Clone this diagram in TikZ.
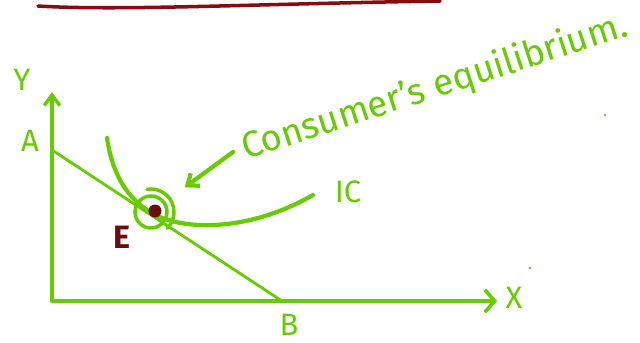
\documentclass[tikz,border=0pt]{standalone}
\usepackage{fontspec}
\setmainfont{Fira Sans}
\usetikzlibrary{arrows.meta, positioning}
\definecolor{pen}{HTML}{66CC00}
\definecolor{inkred}{HTML}{6E0B0B}
\definecolor{topink}{HTML}{8A0A12}

\begin{document}
\begin{tikzpicture}[
    x=0.05cm, y=-0.05cm,
    axis/.style={draw=pen, line width=5pt, line cap=round},
    budget/.style={draw=pen, line width=4pt, line cap=round},
    curve/.style={draw=pen, line width=6pt, line cap=round},
    pointer/.style={draw=pen, line width=6pt, line cap=round, -{Straight Barb[length=14pt, width=22pt, line width=6pt]}},
    lbl/.style={text=pen, font=\fontsize{44}{48}\selectfont, inner sep=0pt},
    speck/.style={circle, fill=pen, inner sep=0pt, minimum size=4pt}
  ]
    \useasboundingbox (0,0) rectangle (640,343);

    % Rule at the top
    \draw[draw=topink, line width=5pt, line cap=round] (38,6) .. controls (120,11) and (250,4) .. (440,1);

    % Axes
    \coordinate (O) at (52,301);
    \coordinate (ytip) at (52,92);
    \coordinate (xtip) at (497,301);
    \draw[axis, -{Straight Barb[length=15pt, width=22pt, line width=5pt]}] (O) -- (ytip);
    \draw[axis, -{Straight Barb[length=14pt, width=32pt, line width=5pt]}] (O) -- (xtip);
    \node[lbl] (ylab) at (22,80) {Y};
    \node[lbl] (xlab) at (514,298) {X};

    % Budget line
    \coordinate (Apt) at (52,150);
    \coordinate (Bpt) at (282,301);
    \draw[budget] (Apt) -- (Bpt);
    \node[lbl] (alab) at (30,141) {A};
    \node[lbl] (blab) at (289,325) {B};

    % Indifference curve
    \draw[curve] (107,138) .. controls (112,172) and (125,196) .. (150,212)
                 .. controls (178,230) and (245,234) .. (313,195);
    \node[lbl] (iclab) at (348,192) {IC};

    % Equilibrium point
    \node[circle, draw=pen, line width=5pt, minimum size=1.6cm, inner sep=0pt] (ring) at (151,212) {};
    \draw[draw=pen, line width=5pt, line cap=round] (ring.center) ++(100:1.15cm) arc[start angle=100, end angle=-45, radius=1.15cm];
    \node[circle, fill=inkred, inner sep=0pt, minimum size=0.65cm] (E) at (155,211) {};
    \node[text=inkred, font=\fontsize{46}{50}\selectfont\bfseries, inner sep=0pt] (elab) at (122,237) {E};

    % Note
    \node[text=pen, font=\fontsize{52}{56}\selectfont, inner sep=0pt, rotate=18, anchor=base west] (note) at (246,160) {Consumer's equilibrium.};
    \coordinate (ptail) at (233,152);
    \draw[pointer, shorten >=1.2cm] (ptail) -- (ring);

    % Stray specks
    \node[speck] (s1) at (605,115) {};
    \node[speck] (s2) at (530,268) {};

  \end{tikzpicture}
\end{document}
